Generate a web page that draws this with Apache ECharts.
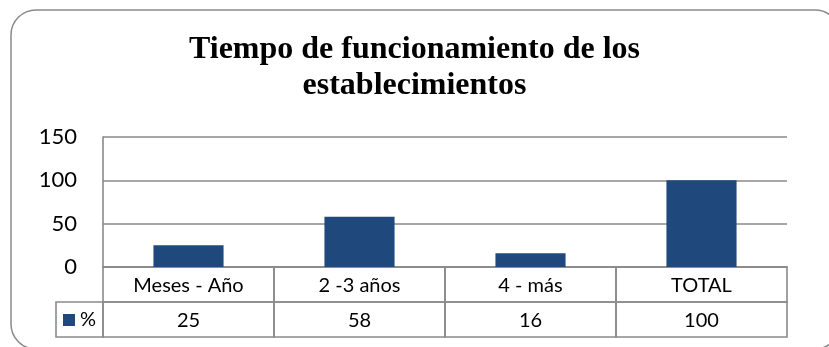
<!DOCTYPE html>
<html>
<head>
<meta charset="utf-8">
<script src="https://cdn.jsdelivr.net/npm/echarts@6/dist/echarts.min.js"></script>
<style>
  html, body { margin: 0; padding: 0; background: #fff; }
  #chart { width: 829px; height: 347px; }
</style>
</head>
<body>
<div id="chart"></div>
<script>
// Categories and percentage values
const categories = ['Meses - Año', '2 -3 años', '4 - más', 'TOTAL'];
const values = [25, 58, 16, 100];
const seriesName = '%';
const yTicks = { min: 0, max: 150, interval: 50 };

const lineColor = '#8a8a8a';
const barColor = '#1F497D';
const sansFont = 'Lato, "Liberation Sans", sans-serif';

const chart = echarts.init(document.getElementById('chart'), null, { renderer: 'canvas' });

// Data table cells: one row of category names, one row of values
const tableCells = [];
categories.forEach((c, i) => { tableCells.push([i, 1]); tableCells.push([i, 0]); });

function renderCell(params, api) {
  const i = api.value(0);
  const row = api.value(1);
  const bottom = api.coord([i, row]);
  const top = api.coord([i, row + 1]);
  const w = api.size([1, 0])[0];
  const x = bottom[0] - w / 2;
  const y = top[1];
  const h = bottom[1] - top[1];
  const label = row === 1 ? categories[i] : String(values[i]);
  return {
    type: 'group',
    children: [
      { type: 'rect', shape: { x: x, y: y, width: w, height: h },
        style: { fill: 'none', stroke: lineColor, lineWidth: 1.6 } },
      { type: 'text',
        style: { text: label, x: bottom[0], y: y + h / 2 + 1, align: 'center', verticalAlign: 'middle',
                 fontSize: 20, fontFamily: sansFont, fill: '#000' } }
    ]
  };
}

const option = {
  animation: false,
  backgroundColor: '#fff',
  title: {
    text: 'Tiempo de funcionamiento de los\nestablecimientos',
    left: 'center',
    top: 27,
    padding: [5, 17, 5, 5],
    textStyle: {
      fontFamily: '"Liberation Serif", "DejaVu Serif", serif',
      fontWeight: 'bold',
      fontSize: 32,
      lineHeight: 36,
      color: '#000'
    }
  },
  legend: {
    data: [seriesName],
    left: 56,
    top: 302,
    padding: [8, 7, 7, 7],
    itemWidth: 12,
    itemHeight: 12,
    borderColor: lineColor,
    borderWidth: 1.6,
    borderRadius: 0,
    icon: 'rect',
    textStyle: { fontSize: 20, fontFamily: sansFont, color: '#000' }
  },
  grid: [
    { left: 103, top: 137, width: 684, height: 130, containLabel: false },
    { left: 103, top: 267, width: 684, height: 70, containLabel: false }
  ],
  xAxis: [
    { type: 'category', gridIndex: 0, data: categories,
      axisLine: { show: true, lineStyle: { color: lineColor, width: 1.6 } },
      axisTick: { show: false }, axisLabel: { show: false } },
    { type: 'category', gridIndex: 1, data: categories, show: false }
  ],
  yAxis: [
    { type: 'value', gridIndex: 0, min: yTicks.min, max: yTicks.max, interval: yTicks.interval,
      axisLine: { show: true, lineStyle: { color: lineColor, width: 1.6 } },
      axisTick: { show: false },
      axisLabel: { fontSize: 22, fontFamily: sansFont, color: '#000', margin: 26 },
      splitLine: { show: true, lineStyle: { color: lineColor, width: 1.6 } } },
    { type: 'value', gridIndex: 1, min: 0, max: 2, show: false }
  ],
  series: [
    { name: seriesName, type: 'bar', xAxisIndex: 0, yAxisIndex: 0, data: values,
      barWidth: '41%', itemStyle: { color: barColor } },
    { type: 'custom', xAxisIndex: 1, yAxisIndex: 1, data: tableCells,
      renderItem: renderCell, silent: true }
  ],
  graphic: [
    { type: 'rect', z: 100, silent: true,
      shape: { x: 11, y: 10, width: 829, height: 339, r: 25 },
      style: { fill: 'none', stroke: '#8a8a8a', lineWidth: 1.5 } }
  ]
};

chart.setOption(option);
</script>
</body>
</html>
